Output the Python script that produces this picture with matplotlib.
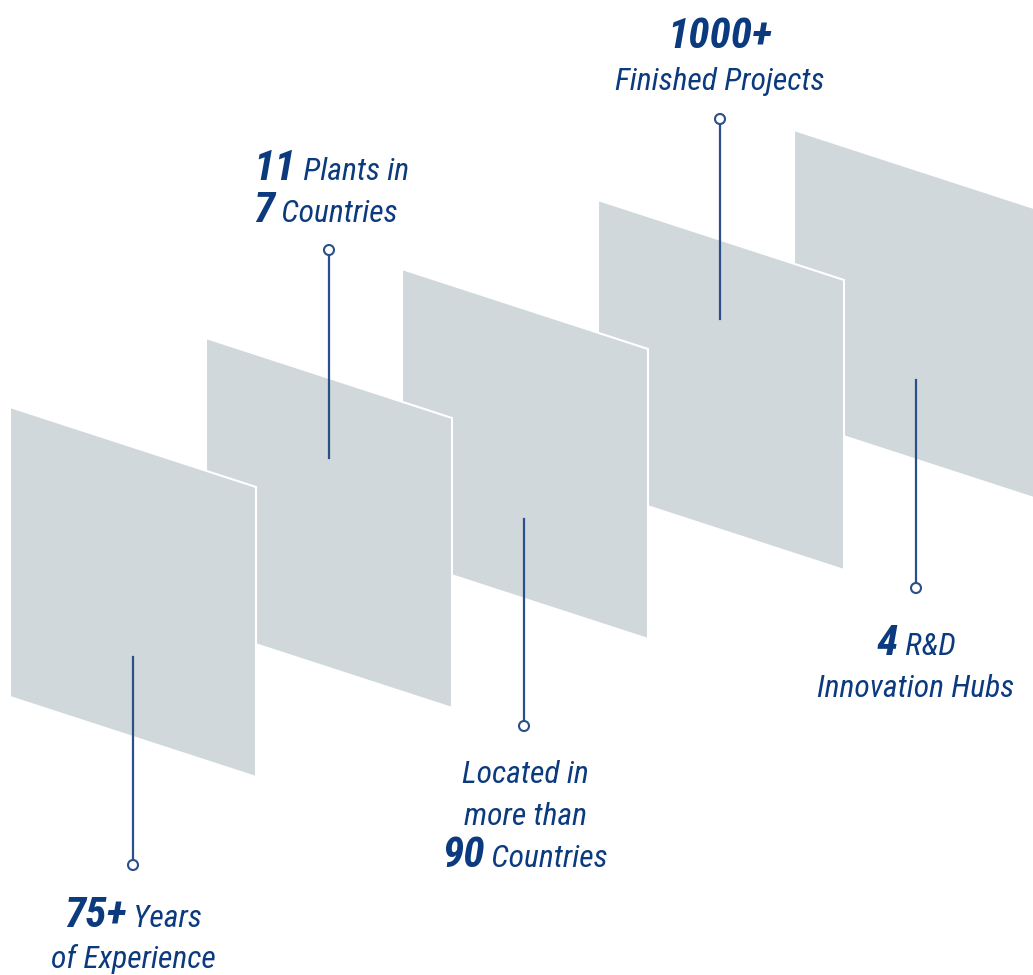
import matplotlib
matplotlib.use("Agg")
import matplotlib.pyplot as plt
from matplotlib.patches import Polygon, Circle

panel_color = "#d0d8db"
line_color = "#2b4f88"
text_color = "#0b3a7e"
fonts = ["Roboto Condensed", "Liberation Sans Narrow", "DejaVu Sans"]

# panels (pixel layout), back to front drawn in reverse
panel_left = [10, 206, 402, 598, 794]
panel_top = [407, 338, 269, 200, 130]
panel_w = 246
panel_skew = 80
panel_h = 290

# connector lines: x, start y on panel, end y at the circle
line_x = [133, 329, 524, 720, 916]
line_start = [657, 458, 519, 319, 380]
line_end = [865, 250, 726, 119, 588]

# label texts: each line is a list of (text, bold)
label_lines = [
    [[("75+", True), (" Years", False)], [("of Experience", False)]],
    [[("11", True), (" Plants in", False)], [("7", True), (" Countries", False)]],
    [[("Located in", False)], [("more than", False)], [("90", True), (" Countries", False)]],
    [[("1000+", True)], [("Finished Projects", False)]],
    [[("4", True), (" R&D", False)], [("Innovation Hubs", False)]],
]
label_x = [133, 253, 525, 720, 916]
label_y = [927, 180, 783, 48, 655]
label_align = ["center", "left", "center", "center", "center"]
line_gap = [41, 42, 42, 42, 42]

fig = plt.figure(figsize=(10.33, 9.75), dpi=100)
ax = fig.add_axes([0, 0, 1, 1])
ax.set_xlim(0, 1033)
ax.set_ylim(975, 0)
ax.axis("off")

for i in reversed(range(len(panel_left))):
    x0, y0 = panel_left[i], panel_top[i]
    pts = [(x0, y0), (x0 + panel_w, y0 + panel_skew),
           (x0 + panel_w, y0 + panel_skew + panel_h), (x0, y0 + panel_h)]
    ax.add_patch(Polygon(pts, closed=True, facecolor=panel_color,
                         edgecolor="white", linewidth=1.5, zorder=1))

for x, y1, y2 in zip(line_x, line_start, line_end):
    ax.plot([x, x], [y1, y2], color=line_color, lw=1.6, zorder=3)
    ax.add_patch(Circle((x, y2), 5, facecolor="white", edgecolor=line_color,
                        lw=1.5, zorder=4))

renderer = fig.canvas.get_renderer()
style_kw = dict(style="italic", stretch="condensed", family=fonts,
                color=text_color, va="baseline", ha="left", zorder=5)

# size the fonts so that the widths match the reference
probe = ax.text(0, 0, "Finished Projects", fontsize=24, **style_kw)
size_reg = 24 * 210 / probe.get_window_extent(renderer).width
probe.remove()
probe = ax.text(0, 0, "1000+", fontsize=33, fontweight="bold", **style_kw)
size_bold = 33 * 105 / probe.get_window_extent(renderer).width
probe.remove()


def draw_line(parts, x, y, align):
    texts = []
    for s, bold in parts:
        if bold:
            t = ax.text(0, y, s, fontsize=size_bold, fontweight="bold", **style_kw)
        else:
            t = ax.text(0, y, s, fontsize=size_reg, **style_kw)
        texts.append(t)
    widths = [t.get_window_extent(renderer).width for t in texts]
    total = sum(widths)
    start = x - total / 2 if align == "center" else x
    for t, w in zip(texts, widths):
        t.set_x(start)
        start += w


for lines, x, y, al, gap in zip(label_lines, label_x, label_y, label_align, line_gap):
    for k, parts in enumerate(lines):
        draw_line(parts, x, y + k * gap, al)

fig.savefig("out.png", dpi=100)
